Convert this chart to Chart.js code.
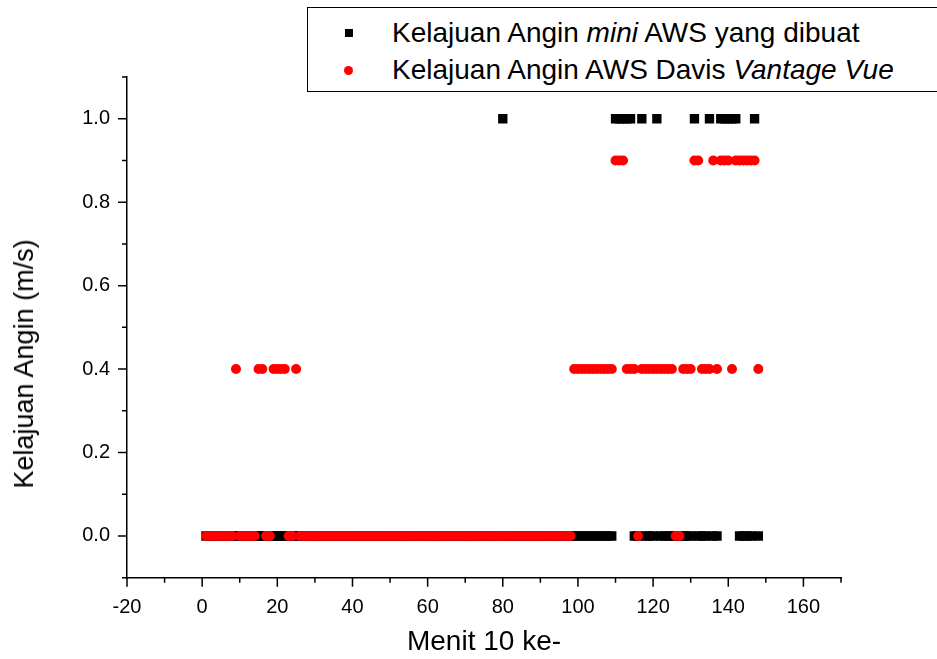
<!DOCTYPE html>
<html>
<head>
<meta charset="utf-8">
<script src="https://cdn.jsdelivr.net/npm/chart.js@4.4.1/dist/chart.umd.min.js"></script>
<style>
  body { margin: 0; background: #fff; }
  #wrap { position: relative; width: 937px; height: 659px; overflow: hidden; font-family: "Liberation Sans", Arial, sans-serif; }
  #legendBox { position: absolute; left: 307px; top: 7px; width: 660px; height: 83px; border: 1.3px solid #000; background: #fff; }
  .lg { position: absolute; left: 392px; font-size: 28px; line-height: 34px; white-space: nowrap; color: #000; }
  .mk { position: absolute; }
  #yTitle { position: absolute; left: 24px; top: 364px; font-size: 27px; line-height: 32px; white-space: nowrap; color: #000;
            transform: translate(-50%, -50%) rotate(-90deg); }
</style>
</head>
<body>
<div id="wrap">
  <canvas id="windChart" width="937" height="659"></canvas>
  <div id="legendBox"></div>
  <div class="mk" style="left:345px;top:29px;width:8px;height:8px;background:#000"></div>
  <div class="lg" style="top:16px">Kelajuan Angin <i>mini</i> AWS yang dibuat</div>
  <div class="mk" style="left:344px;top:66px;width:9px;height:9px;border-radius:50%;background:#f00"></div>
  <div class="lg" style="top:53px">Kelajuan Angin AWS Davis <i>Vantage Vue</i></div>
  <div id="yTitle">Kelajuan Angin (m/s)</div>
</div>
<script>
// minute index (every 10 minutes)
const minutes = [
  1, 2, 3, 4, 5, 6, 7, 8, 9, 10, 11, 12, 13, 14, 15, 16, 17, 18, 19, 20,
  21, 22, 23, 24, 25, 26, 27, 28, 29, 30, 31, 32, 33, 34, 35, 36, 37, 38, 39, 40,
  41, 42, 43, 44, 45, 46, 47, 48, 49, 50, 51, 52, 53, 54, 55, 56, 57, 58, 59, 60,
  61, 62, 63, 64, 65, 66, 67, 68, 69, 70, 71, 72, 73, 74, 75, 76, 77, 78, 79, 80,
  81, 82, 83, 84, 85, 86, 87, 88, 89, 90, 91, 92, 93, 94, 95, 96, 97, 98, 99, 100,
  101, 102, 103, 104, 105, 106, 107, 108, 109, 110, 111, 112, 113, 114, 115, 116, 117, 118, 119, 120,
  121, 122, 123, 124, 125, 126, 127, 128, 129, 130, 131, 132, 133, 134, 135, 136, 137, 138, 139, 140,
  141, 142, 143, 144, 145, 146, 147, 148
];

// wind speed (m/s), mini AWS
const miniAws = [
  0, 0, 0, 0, 0, 0, 0, 0, 0, 0,   0, 0, 0, 0, 0, 0, 0, 0, 0, 0,
  0, 0, 0, 0, 0, 0, 0, 0, 0, 0,   0, 0, 0, 0, 0, 0, 0, 0, 0, 0,
  0, 0, 0, 0, 0, 0, 0, 0, 0, 0,   0, 0, 0, 0, 0, 0, 0, 0, 0, 0,
  0, 0, 0, 0, 0, 0, 0, 0, 0, 0,   0, 0, 0, 0, 0, 0, 0, 0, 0, 1,
  0, 0, 0, 0, 0, 0, 0, 0, 0, 0,   0, 0, 0, 0, 0, 0, 0, 0, 0, 0,
  0, 0, 0, 0, 0, 0, 0, 0, 0, 1,   1, 1, 1, 1, 0, 0, 1, 0, 0, 0,
  1, 0, 0, 0, 0, 0, 0, 0, 0, 0,   1, 0, 0, 0, 1, 0, 0, 1, 1, 1,
  1, 1, 0, 0, 0, 0, 1, 0
];

// wind speed (m/s), Davis Vantage Vue
const davis = [
  0, 0, 0, 0, 0, 0, 0, 0, 0.4, 0,   0, 0, 0, 0, 0.4, 0.4, 0, 0, 0.4, 0.4,
  0.4, 0.4, 0, 0, 0.4, 0, 0, 0, 0, 0,   0, 0, 0, 0, 0, 0, 0, 0, 0, 0,
  0, 0, 0, 0, 0, 0, 0, 0, 0, 0,   0, 0, 0, 0, 0, 0, 0, 0, 0, 0,
  0, 0, 0, 0, 0, 0, 0, 0, 0, 0,   0, 0, 0, 0, 0, 0, 0, 0, 0, 0,
  0, 0, 0, 0, 0, 0, 0, 0, 0, 0,   0, 0, 0, 0, 0, 0, 0, 0, 0.4, 0.4,
  0.4, 0.4, 0.4, 0.4, 0.4, 0.4, 0.4, 0.4, 0.4, 0.9,   0.9, 0.9, 0.4, 0.4, 0.4, 0, 0.4, 0.4, 0.4, 0.4,
  0.4, 0.4, 0.4, 0.4, 0.4, 0, 0, 0.4, 0.4, 0.4,   0.9, 0.9, 0.4, 0.4, 0.4, 0.9, 0.4, 0.9, 0.9, 0.9,
  0.4, 0.9, 0.9, 0.9, 0.9, 0.9, 0.9, 0.4
];

// axis ticks
const xTicks = [-20, 0, 20, 40, 60, 80, 100, 120, 140, 160];
const xMinor = [-10, 10, 30, 50, 70, 90, 110, 130, 150, 170];
const yTicks = [0, 0.2, 0.4, 0.6, 0.8, 1.0];
const yMinor = [-0.1, 0.1, 0.3, 0.5, 0.7, 0.9, 1.1];

const FONT = '"Liberation Sans", Arial, sans-serif';

// outward tick marks like the original plot
const tickMarks = {
    id: 'tickMarks',
    afterDraw(chart) {
        const ctx = chart.ctx;
        const x = chart.scales.x, y = chart.scales.y;
        const bottom = chart.chartArea.bottom, left = chart.chartArea.left;
        ctx.save();
        ctx.strokeStyle = '#000';
        ctx.lineWidth = 1.5;
        ctx.beginPath();
        xTicks.forEach(v => { const p = x.getPixelForValue(v); ctx.moveTo(p, bottom); ctx.lineTo(p, bottom + 9); });
        xMinor.forEach(v => { const p = x.getPixelForValue(v); ctx.moveTo(p, bottom); ctx.lineTo(p, bottom + 5); });
        yTicks.forEach(v => { const p = y.getPixelForValue(v); ctx.moveTo(left, p); ctx.lineTo(left - 9, p); });
        yMinor.forEach(v => { const p = y.getPixelForValue(v); ctx.moveTo(left, p); ctx.lineTo(left - 5, p); });
        ctx.stroke();
        ctx.restore();
    }
};

const ctx = document.getElementById('windChart').getContext('2d');
const windChart = new Chart(ctx, {
    type: 'scatter',
    data: {
        datasets: [{
            label: 'Kelajuan Angin AWS Davis Vantage Vue',
            data: minutes.map((m, i) => ({ x: m, y: davis[i] })),
            pointStyle: 'circle',
            pointRadius: 5,
            pointHoverRadius: 5,
            borderWidth: 0,
            backgroundColor: '#ff0000',
            order: 1
        }, {
            label: 'Kelajuan Angin mini AWS yang dibuat',
            data: minutes.map((m, i) => ({ x: m, y: miniAws[i] })),
            pointStyle: 'rect',
            pointRadius: 6.6,
            pointHoverRadius: 6.6,
            borderWidth: 0,
            backgroundColor: '#000000',
            order: 2
        }]
    },
    options: {
        responsive: false,
        animation: false,
        layout: { padding: { top: 77, right: 96, bottom: 0, left: 0 } },
        plugins: { legend: { display: false }, tooltip: { enabled: false } },
        scales: {
            x: {
                type: 'linear',
                min: -20,
                max: 170,
                afterBuildTicks: s => { s.ticks = xTicks.map(v => ({ value: v })); },
                afterFit: s => { s.height = 81.3; },
                grid: { display: false, drawTicks: false },
                border: { display: true, color: '#000', width: 1.5 },
                ticks: { color: '#000', padding: 18, font: { family: FONT, size: 20 } },
                title: { display: true, text: 'Menit 10 ke-', color: '#000', padding: { top: 0, bottom: 0 }, font: { family: FONT, size: 28 } }
            },
            y: {
                min: -0.1,
                max: 1.1,
                afterBuildTicks: s => { s.ticks = yTicks.map(v => ({ value: v })); },
                afterFit: s => { s.width = 127; },
                grid: { display: false, drawTicks: false },
                border: { display: true, color: '#000', width: 1.5 },
                ticks: { color: '#000', padding: 17, font: { family: FONT, size: 20 }, callback: v => v.toFixed(1) }
            }
        }
    },
    plugins: [tickMarks]
});
</script>
</body>
</html>
